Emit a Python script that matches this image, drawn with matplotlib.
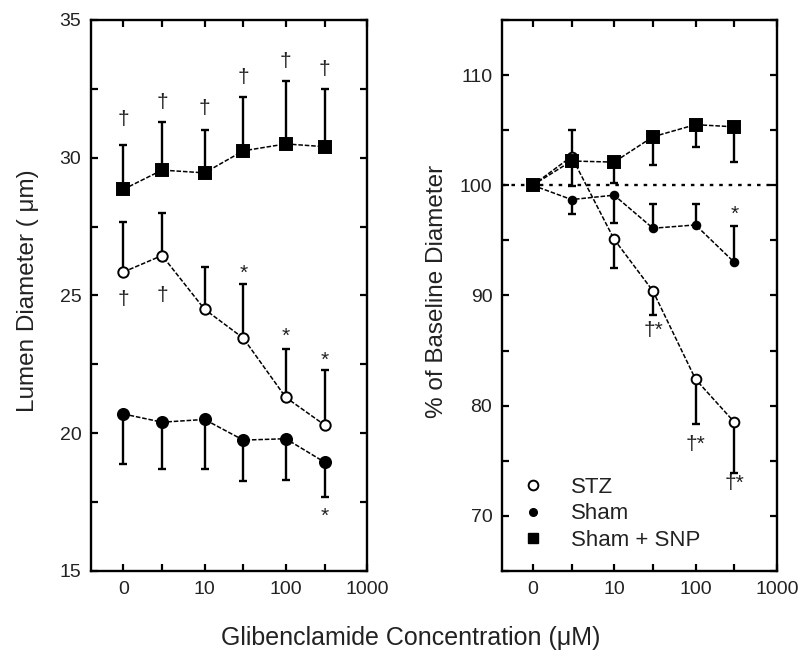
import matplotlib
matplotlib.use("Agg")
import matplotlib.pyplot as plt
from matplotlib.lines import Line2D
import numpy as np

plt.rcParams['font.family'] = ['Liberation Sans', 'DejaVu Sans']

# concentrations (0 is drawn at the 1 position of the log axis)
conc = [1, 3, 10, 30, 100, 300]

# left panel: lumen diameter (um)
snp_diam = [28.85, 29.55, 29.45, 30.25, 30.5, 30.4]
snp_diam_up = [1.6, 1.75, 1.55, 1.95, 2.3, 2.1]
stz_diam = [25.85, 26.45, 24.5, 23.45, 21.3, 20.3]
stz_diam_up = [1.8, 1.55, 1.55, 1.95, 1.75, 2.0]
sham_diam = [20.7, 20.4, 20.5, 19.75, 19.8, 18.95]
sham_diam_dn = [1.8, 1.7, 1.8, 1.5, 1.5, 1.25]

# right panel: % of baseline
stz_pct = [100, 102.6, 95.1, 90.4, 82.4, 78.5]
stz_pct_up = [0, 2.4, 0, 0, 0, 0]
stz_pct_dn = [0, 0, 2.6, 2.2, 4.1, 4.6]
sham_pct = [100, 98.7, 99.1, 96.1, 96.4, 93.0]
sham_pct_up = [0, 0, 0, 2.2, 1.9, 3.3]
sham_pct_dn = [0, 1.3, 2.5, 0, 0, 0]
snp_pct = [100, 102.2, 102.1, 104.4, 105.5, 105.3]
snp_pct_up = [0, 0, 0, 0, 0, 0]
snp_pct_dn = [0, 2.3, 1.9, 2.6, 2.0, 3.2]

# significance marks (x, y, text)
left_marks = [(1, 31.4, "†"), (3, 32.0, "†"), (10, 31.8, "†"), (30, 32.9, "†"),
              (100, 33.5, "†"), (300, 33.2, "†"),
              (1, 24.85, "†"), (3, 25.0, "†"),
              (30, 25.8, "*"), (100, 23.5, "*"), (300, 22.65, "*"),
              (300, 17.0, "*")]
right_marks = [(300, 97.4, "*"), (30, 86.8, "†*"), (100, 76.5, "†*"), (300, 72.9, "†*")]

xtick_pos = [1, 3, 10, 30, 100, 300, 1000]
xtick_lab = ["0", "", "10", "", "100", "", "1000"]


def series(ax, x, y, up, dn, marker, ms, mfc):
    x = np.array(x, float)
    y = np.array(y, float)
    up = np.array(up, float)
    dn = np.array(dn, float)
    ax.plot(x, y, color="black", lw=1.1, ls=(0, (3, 1.2)), zorder=2)
    ax.errorbar(x, y, yerr=[dn, up], fmt="none", ecolor="black",
                elinewidth=1.7, capsize=0, zorder=3)
    m = up > 0
    ax.plot(x[m], (y + up)[m], ls="none", marker="_", ms=6, mew=1.7,
            color="black", zorder=3)
    m = dn > 0
    ax.plot(x[m], (y - dn)[m], ls="none", marker="_", ms=6, mew=1.7,
            color="black", zorder=3)
    ax.plot(x, y, ls="none", marker=marker, ms=ms, mfc=mfc,
            mec="black", mew=1.4, zorder=4)


def style(ax):
    ax.set_xscale("log")
    ax.set_xticks(xtick_pos)
    ax.set_xticklabels(xtick_lab)
    ax.minorticks_off()
    ax.tick_params(axis="both", which="both", direction="in", top=True,
                   right=True, length=5, width=1.6, labelsize=14, pad=7,
                   labelcolor="#222222")
    for s in ax.spines.values():
        s.set_linewidth(1.7)


fig = plt.figure(figsize=(8.01, 6.56), dpi=100)
ax1 = fig.add_axes([0.1136, 0.1296, 0.3446, 0.84])
ax2 = fig.add_axes([0.6267, 0.1296, 0.3433, 0.84])

# left panel
series(ax1, conc, snp_diam, snp_diam_up, [0] * 6, "s", 9, "black")
series(ax1, conc, stz_diam, stz_diam_up, [0] * 6, "o", 7.5, "white")
series(ax1, conc, sham_diam, [0] * 6, sham_diam_dn, "o", 8, "black")
for x, y, t in left_marks:
    ax1.text(x, y, t, ha="center", va="center", fontsize=15, color="#222222")
style(ax1)
ax1.set_xlim(0.4, 1000)
ax1.set_ylim(15, 35)
ax1.set_yticks(np.arange(15, 35.1, 2.5))
ax1.set_yticklabels(["15", "", "20", "", "25", "", "30", "", "35"])

# right panel
ax2.axhline(100, color="black", lw=1.7, ls=(0, (1.5, 2.5)), zorder=1)
series(ax2, conc, stz_pct, stz_pct_up, stz_pct_dn, "o", 7, "white")
series(ax2, conc, sham_pct, sham_pct_up, sham_pct_dn, "o", 5.5, "black")
series(ax2, conc, snp_pct, snp_pct_up, snp_pct_dn, "s", 8, "black")
for x, y, t in right_marks:
    ax2.text(x, y, t, ha="center", va="center", fontsize=15, color="#222222")
style(ax2)
ax2.set_xlim(0.42, 1000)
ax2.set_ylim(65, 115)
ax2.set_yticks(np.arange(65, 115.1, 5))
ax2.set_yticklabels(["", "70", "", "80", "", "90", "", "100", "", "110", ""])

handles = [
    Line2D([], [], ls="none", marker="o", ms=7, mfc="white", mec="black", mew=1.4),
    Line2D([], [], ls="none", marker="o", ms=5.5, mfc="black", mec="black"),
    Line2D([], [], ls="none", marker="s", ms=7, mfc="black", mec="black"),
]
ax2.legend(handles, ["STZ", "Sham", "Sham + SNP"], loc="lower left",
           bbox_to_anchor=(0.0, 0.0), frameon=False, fontsize=16,
           handletextpad=1.2, labelspacing=0.25, handlelength=1.0,
           labelcolor="#222222")

fig.text(28 / 801, 1 - 291 / 656, "Lumen Diameter ( μm)", rotation=90,
         ha="center", va="center", fontsize=17.5, color="#222222")
fig.text(437 / 801, 1 - 291 / 656, "% of Baseline Diameter", rotation=90,
         ha="center", va="center", fontsize=17.5, color="#222222")
fig.text(411 / 801, 1 - 638 / 656, "Glibenclamide Concentration (μM)",
         ha="center", va="center", fontsize=18, color="#222222")

fig.savefig("out.png", dpi=100)
